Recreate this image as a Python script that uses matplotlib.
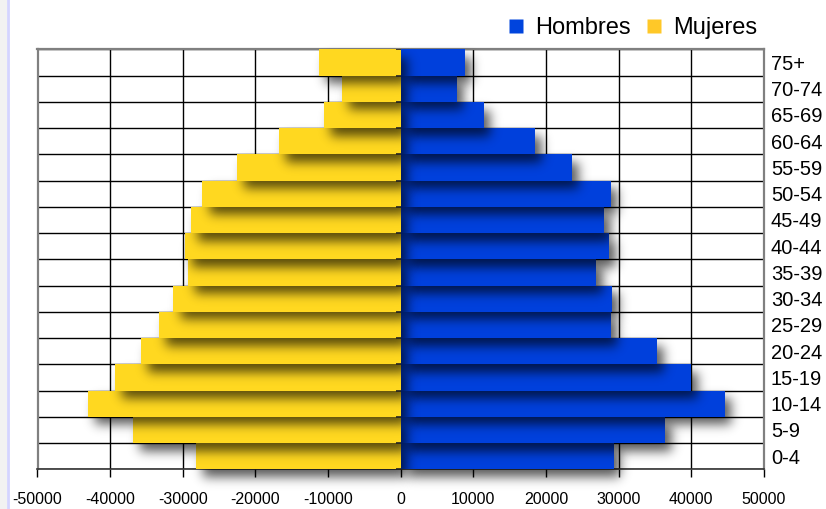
import math
import numpy as np
import matplotlib
matplotlib.use("Agg")
import matplotlib.pyplot as plt
from matplotlib.lines import Line2D
from matplotlib.patches import Rectangle

plt.rcParams['font.family'] = ['Liberation Sans', 'DejaVu Sans']

# Age groups, bottom to top
grupos = ["0-4", "5-9", "10-14", "15-19", "20-24", "25-29", "30-34", "35-39",
          "40-44", "45-49", "50-54", "55-59", "60-64", "65-69", "70-74", "75+"]
hombres = [29300, 36400, 44600, 40000, 35300, 28900, 29100, 26900,
           28700, 28000, 28900, 23600, 18500, 11400, 7700, 8800]
mujeres = [28200, 36900, 43100, 39400, 35800, 33300, 31300, 29300,
           29700, 28900, 27300, 22600, 16800, 10600, 8100, 11300]
x_ticks = [-50000, -40000, -30000, -20000, -10000, 0, 10000, 20000, 30000, 40000, 50000]

blue = "#0040DC"
yellow = "#FFD820"

W, H = 826, 509
fig = plt.figure(figsize=(W / 100, H / 100), dpi=100)
ax_rect = [37.5 / W, 1 - 469.3 / H, (764 - 37.5) / W, (469.3 - 49.3) / H]
ax = fig.add_axes(ax_rect)

# screenshot edge artefact on the left
fig.add_artist(Rectangle((0, 0), 7 / W, 1, transform=fig.transFigure,
                         facecolor="#f2f2f2", edgecolor="none"))
fig.add_artist(Line2D([8 / W, 8 / W], [0, 1], transform=fig.transFigure,
                      color="#d4d4ff", lw=2))

xmin, xmax = -50000, 50000
n = len(grupos)
ymin, ymax = -0.5, n - 0.5

# pixel -> data conversion for the drop shadow
px_x = (xmax - xmin) / (ax_rect[2] * W)
px_y = (ymax - ymin) / (ax_rect[3] * H)
sh_dx, sh_dy, sh_sig, sh_alpha = 7, 8, 5.5, 0.65

erf = np.vectorize(math.erf)


def smooth_box(t, a, b, s):
    return 0.5 * (erf((t - a) / (s * math.sqrt(2))) - erf((t - b) / (s * math.sqrt(2))))


def drop_shadow(x0, x1, y0, y1, z):
    # work in pixel units, then map back to data extent
    px0, px1 = x0 / px_x + sh_dx, x1 / px_x + sh_dx
    py0, py1 = y0 / px_y - sh_dy, y1 / px_y - sh_dy
    m = 3 * sh_sig
    xs = np.arange(px0 - m, px1 + m, 1.0)
    ys = np.arange(py0 - m, py1 + m, 1.0)
    fx = smooth_box(xs, px0, px1, sh_sig)
    fy = smooth_box(ys, py0, py1, sh_sig)
    img = np.zeros((len(ys), len(xs), 4))
    img[..., 3] = sh_alpha * np.outer(fy, fx)
    ax.imshow(img, extent=(xs[0] * px_x, xs[-1] * px_x, ys[0] * px_y, ys[-1] * px_y),
              origin="lower", aspect="auto", interpolation="bilinear",
              zorder=z, clip_on=False)


z = 3
for vals, sign, col in [(hombres, 1, blue), (mujeres, -1, yellow)]:
    for i, v in enumerate(vals):
        left = 0 if sign > 0 else -v
        drop_shadow(left, left + v, i - 0.5, i + 0.5, z)
        ax.barh(i, v, left=left, height=1.0, color=col, zorder=z + 0.5)
        z += 1

# little category-axis ticks at zero
ax.hlines(np.arange(n + 1) - 0.5, -700, 0, color="#222222", lw=1.2, zorder=z + 1)

ax.set_xlim(xmin, xmax)
ax.set_ylim(ymin, ymax)

ax.set_xticks(x_ticks)
ax.set_xticklabels([str(t) for t in x_ticks], fontsize=11.5)
ax.tick_params(axis="x", direction="out", length=6, width=1, color="black", pad=10)

ax.yaxis.tick_right()
ax.set_yticks(range(n))
ax.set_yticklabels(grupos, fontsize=14.5)
ax.set_yticks(np.arange(n + 1) - 0.5, minor=True)
ax.tick_params(axis="y", which="both", length=0, pad=5)

ax.set_axisbelow(True)
ax.grid(True, axis="x", which="major", color="black", lw=1)
ax.grid(True, axis="y", which="minor", color="black", lw=1)
ax.grid(False, axis="y", which="major")

for side in ["left", "right", "top"]:
    ax.spines[side].set_color("#808080")
    ax.spines[side].set_linewidth(1.6)
ax.spines["bottom"].set_color("#333333")
ax.spines["bottom"].set_linewidth(1.2)

handles = [
    Line2D([], [], marker="s", linestyle="none", markersize=10,
           markerfacecolor="#0044DD", markeredgecolor="none", label="Hombres"),
    Line2D([], [], marker="s", linestyle="none", markersize=10,
           markerfacecolor="#FFC828", markeredgecolor="none", label="Mujeres"),
]
fig.legend(handles=handles, loc="center right", bbox_to_anchor=(757 / W, 1 - 28 / H),
           ncol=2, frameon=False, fontsize=17, handlelength=0.8,
           handletextpad=0.4, columnspacing=0.6, borderpad=0, borderaxespad=0)

fig.savefig("out.png", dpi=100)
